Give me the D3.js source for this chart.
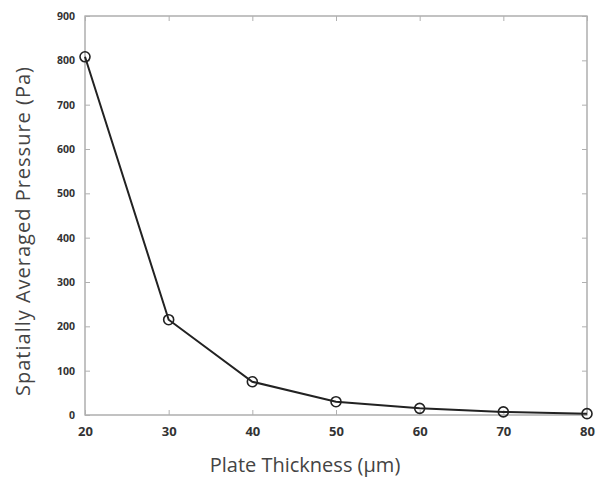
<!DOCTYPE html>
<html>
<head>
<meta charset="utf-8">
<script src="https://cdn.jsdelivr.net/npm/d3@7"></script>
<style>
  body { margin: 0; background: #fff; }
  svg { display: block; }
</style>
</head>
<body>
<div id="chart"></div>
<script>
var thickness = [20, 30, 40, 50, 60, 70, 80];
var pressure = [808, 215, 75, 30, 15, 7, 3];
var xTicks = [20, 30, 40, 50, 60, 70, 80];
var yTicks = [0, 100, 200, 300, 400, 500, 600, 700, 800, 900];

function init() {
    var w = 600;
    var h = 478;
    var left = 85, right = 587, top = 16, bottom = 415;

    var x = d3.scaleLinear().domain([20, 80]).range([left, right]);
    var y = d3.scaleLinear().domain([0, 900]).range([bottom, top]);

    var svg = d3.select("#chart")
                .append("svg")
                .attr("width", w)
                .attr("height", h);

    // box
    svg.append("rect")
        .attr("x", left).attr("y", top)
        .attr("width", right - left).attr("height", bottom - top)
        .attr("fill", "none")
        .attr("stroke", "#9a9a9a")
        .attr("stroke-width", 1.2);

    // inward ticks (MATLAB style)
    var tl = 5;
    var tickStyle = function(sel) {
        sel.selectAll(".domain").remove();
        sel.selectAll("line").attr("stroke", "#b0b0b0");
        sel.selectAll("text")
            .attr("fill", "#333")
            .attr("font-family", "'Open Sans', sans-serif")
            .attr("font-weight", "bold")
            .attr("font-size", "11px");
    };

    svg.append("g")
        .attr("transform", "translate(0," + bottom + ")")
        .call(d3.axisBottom(x).tickValues(xTicks).tickSizeInner(-tl).tickPadding(12))
        .call(tickStyle)
        .selectAll("text").attr("font-size", "13px");

    svg.append("g")
        .attr("transform", "translate(0," + top + ")")
        .call(d3.axisTop(x).tickValues(xTicks).tickSizeInner(-tl).tickFormat(""))
        .call(tickStyle);

    svg.append("g")
        .attr("transform", "translate(" + left + ",0)")
        .call(d3.axisLeft(y).tickValues(yTicks).tickSizeInner(-tl).tickPadding(10))
        .call(tickStyle)
        .selectAll("text").attr("font-size", "10.5px");

    svg.append("g")
        .attr("transform", "translate(" + right + ",0)")
        .call(d3.axisRight(y).tickValues(yTicks).tickSizeInner(-tl).tickFormat(""))
        .call(tickStyle);

    // line
    var line = d3.line()
        .x(function(d, i) { return x(thickness[i]); })
        .y(function(d) { return y(d); });

    svg.append("path")
        .datum(pressure)
        .attr("d", line)
        .attr("fill", "none")
        .attr("stroke", "#222")
        .attr("stroke-width", 2);

    svg.selectAll("circle")
        .data(pressure)
        .enter()
        .append("circle")
        .attr("cx", function(d, i) { return x(thickness[i]); })
        .attr("cy", function(d) { return y(d); })
        .attr("r", 5)
        .attr("fill", "none")
        .attr("stroke", "#222")
        .attr("stroke-width", 1.6);

    // axis labels
    svg.append("text")
        .text("Plate Thickness (\u03bcm)")
        .attr("x", 305)
        .attr("y", 472)
        .attr("text-anchor", "middle")
        .attr("font-family", "'Open Sans', sans-serif")
        .attr("font-size", "20px")
        .attr("fill", "#444");

    svg.append("text")
        .text("Spatially Averaged Pressure  (Pa)")
        .attr("transform", "translate(30,231) rotate(-90)")
        .attr("text-anchor", "middle")
        .attr("font-family", "'Open Sans', sans-serif")
        .attr("font-size", "20px")
        .attr("letter-spacing", "1px")
        .attr("fill", "#444");
}
window.onload = init;
</script>
</body>
</html>
